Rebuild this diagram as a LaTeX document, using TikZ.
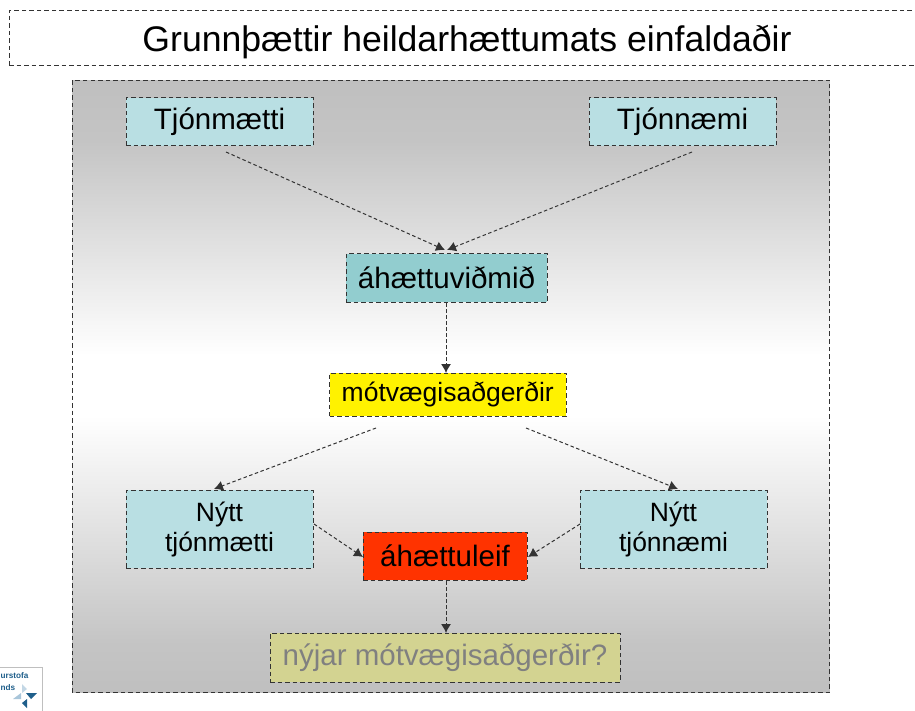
\documentclass[tikz,border=0pt]{standalone}
\usepackage{fontspec}
\setmainfont{Liberation Sans}
\usetikzlibrary{arrows.meta}
\definecolor{panelgrey}{gray}{0.75}
\definecolor{panelgreyb}{gray}{0.77}
\definecolor{lightbox}{HTML}{B9DFE3}
\definecolor{tealbox}{HTML}{92CDCF}
\definecolor{redbox}{HTML}{FF3300}
\definecolor{khakibox}{HTML}{D3D391}
\definecolor{logoblue}{HTML}{1F5F8B}
\definecolor{logolight}{HTML}{A9C6DA}
\pgfdeclareverticalshading{panelshade}{100bp}{color(0bp)=(panelgrey); color(25bp)=(panelgrey); color(29bp)=(panelgreyb); color(47.6bp)=(white); color(52.5bp)=(white); color(70bp)=(panelgreyb); color(75bp)=(panelgrey); color(100bp)=(panelgrey)}
\tikzset{
  x=1pt,y=-1pt,
  dashedline/.style={draw=black!80,line width=1pt,dash pattern=on 4.5pt off 3pt},
  box/.style={dashedline,inner sep=0pt,align=center,text=black},
  conn/.style={draw=black!80,line width=1pt,dash pattern=on 3.5pt off 2.5pt,-{Latex[length=9pt,width=10pt]}},
}
\newcommand{\boxat}[7]{% name, left, top, right, bottom, colour, text
  \node[box,fill=#6,minimum width=#4pt-#2pt,minimum height=#5pt-#3pt] (#1) at ({(#2+#4)/2},{(#3+#5)/2}) {#7};}
\newcommand{\bigtext}[1]{\raisebox{-4.5pt}{\fontsize{29.5}{32}\selectfont #1}}
\newcommand{\twolines}[2]{\fontsize{26.5}{31}\selectfont #1\\[4pt]\fontsize{26.5}{31}\selectfont #2}
\begin{document}
\begin{tikzpicture}
\useasboundingbox (0,0) rectangle (915,711);
\begin{scope}
\clip (0,0) rectangle (915,711);
% title
\node[dashedline,inner sep=0pt,minimum width=960pt,minimum height=55pt,anchor=north west] (title) at (8.5,10.5) {};
\node[font=\fontsize{35.6}{40}\selectfont,inner sep=0pt] (titletext) at (467,42) {Grunnþættir heildarhættumats einfaldaðir};
% logo
\node[draw=black!25,fill=white,line width=0.8pt,minimum width=60pt,minimum height=50pt,anchor=north east,inner sep=0pt] (logo) at (43,667) {};
\node[font=\bfseries\fontsize{8.2}{12}\selectfont,text=logoblue,anchor=north west,inner sep=0pt] (logoa) at (0.5,672) {urstofa};
\node[font=\bfseries\fontsize{8.2}{12}\selectfont,text=logoblue,anchor=north west,inner sep=0pt] (logob) at (0.5,684) {nds};
\fill[logolight!70] (22,684) -- (27,689) -- (22,693) -- cycle;
\fill[logolight] (13,699) -- (21,693) -- (21,699) -- cycle;
\fill[logoblue] (26,693) -- (37,693) -- (31,699) -- cycle;
\fill[logoblue] (27,699) -- (27,708) -- (22,703) -- cycle;
\end{scope}
% panel
\path[shading=panelshade] (72,80.5) rectangle (829.5,692);
\draw[dashedline] (72,80.5) rectangle (829.5,692);
% boxes
\boxat{hazard}{126}{98}{313}{146}{lightbox}{\bigtext{Tjónmætti}}
\boxat{vuln}{589}{98}{776}{146}{lightbox}{\bigtext{Tjónnæmi}}
\boxat{crit}{346}{254}{547}{302}{tealbox}{\bigtext{áhættuviðmið}}
\boxat{mit}{329.5}{373}{566}{416}{yellow}{\raisebox{-2.5pt}{\fontsize{26.5}{30}\selectfont mótvægisaðgerðir}}
\boxat{newhaz}{126}{490}{313}{568}{lightbox}{\twolines{Nýtt}{tjónmætti}}
\boxat{newvuln}{580}{490}{767}{568}{lightbox}{\twolines{Nýtt}{tjónnæmi}}
\boxat{resid}{363}{532}{527}{580}{redbox}{\bigtext{áhættuleif}}
\boxat{newmit}{270}{633}{620}{682}{khakibox}{\color{black!50}\bigtext{nýjar mótvægisaðgerðir?}}
% connector free ends
\coordinate (c1s) at (226,152); \coordinate (c1e) at (445,250);
\coordinate (c2s) at (692,152); \coordinate (c2e) at (447,250);
\coordinate (c3s) at (446,303); \coordinate (c3e) at (446,373);
\coordinate (c4s) at (376,428); \coordinate (c4e) at (214,489);
\coordinate (c5s) at (526,428); \coordinate (c5e) at (678,489);
\coordinate (c6s) at (314,524); \coordinate (c6e) at (363,557);
\coordinate (c7s) at (580,524); \coordinate (c7e) at (528,557);
\coordinate (c8s) at (446,581); \coordinate (c8e) at (446,633);
\foreach \n in {1,...,8}{\draw[conn] (c\n s) -- (c\n e);}
\end{tikzpicture}
\end{document}
